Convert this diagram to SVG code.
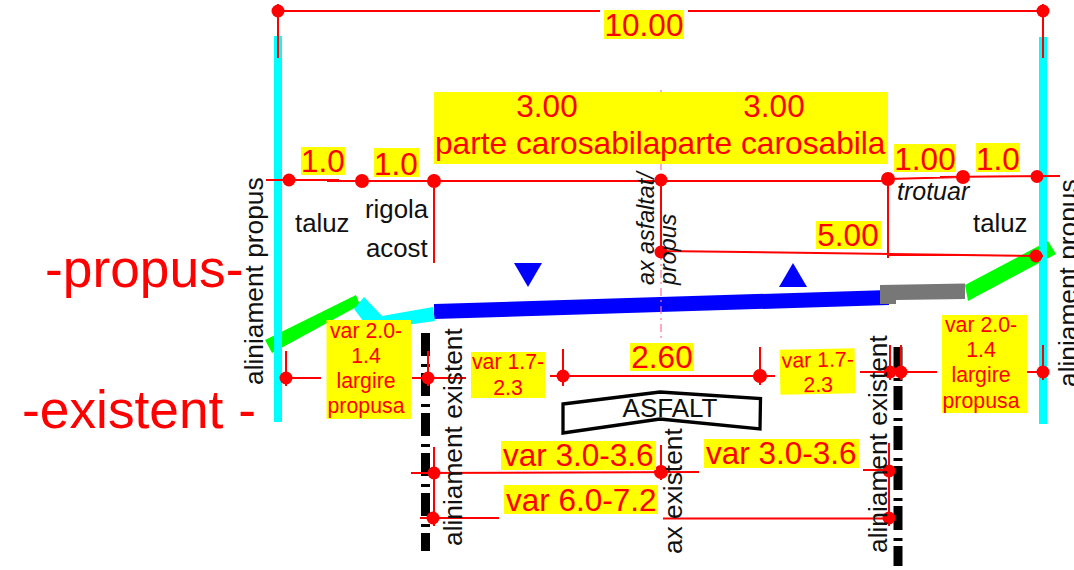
<svg xmlns="http://www.w3.org/2000/svg" width="1074" height="570" viewBox="0 0 1074 570">
<style>
text{font-family:"Liberation Sans",Arial,sans-serif}
.dim{fill:#f00;font-size:31.500px}
.m{text-anchor:middle}
.sm{fill:#f00;font-size:21.300px;text-anchor:middle}
.blk{fill:#111;font-size:25.800px}
.v{fill:#111;font-size:26.300px}
.it{fill:#111;font-size:23.300px;font-style:italic}
.big{fill:#f00;font-size:53.300px}
.y{fill:#ff0}
.l{stroke:#f00;stroke-width:2;fill:none}
.d{fill:#f00}
.bk{stroke:#000;stroke-width:9;fill:none}
</style>
<rect width="1074" height="570" fill="#fff"/>
<g id="road">
<polygon points="434,304 889,290 889,305 434,319" fill="#00f"/>
<polygon points="880,285 965,283.500 965,299 896,300 896,304 880,304" fill="#777"/>
<polygon points="965,285 1048,241 1056,254 968,301" fill="#0f0"/>
<polygon points="265,340 356,295 360,305 272,353" fill="#0f0"/>
<polygon points="354,309 364,297 382,316 433,307 435,321 370,330" fill="#0ff"/>
<polygon points="514,263 542,263 528,287" fill="#00f"/>
<polygon points="793,263 779,287 807,287" fill="#00f"/>
</g>
<g id="alignments">
<rect x="274" y="36" width="8" height="386" fill="#0ff"/>
<rect x="1039" y="37" width="8" height="387" fill="#0ff"/>
<line class="bk" x1="425.500" y1="331" x2="425.500" y2="551" stroke-dasharray="23 8 3 6" stroke-dashoffset="-2"/>
<line class="bk" x1="898" y1="347" x2="898" y2="566" stroke-dasharray="24 8 3 5" stroke-dashoffset="1"/>
<line x1="661" y1="90" x2="661" y2="340" stroke="#ff6f9f" stroke-width="1.200" stroke-dasharray="8 4 2 4"/>
</g>
<g id="connectors">
<path class="l" d="M278 4V58M1043 4V58M278 11H600M688 11H1043"/>
<path class="l" d="M266 180H339M327 181H385M385 181H459M434 181H888M888 179L963 177M940 177L1060 176"/>
<path class="l" d="M434 174V263M661 175V252M888 180V258M661 251L1043 256"/>
<path class="l" d="M286 351V386M292 378H321M412 378H466M428 351V386"/>
<path class="l" d="M563 349V386M550 376H775M760 347V385"/>
<path class="l" d="M860 372H937M890 345V380M901 345V380M1027 372H1043M1043 345V380"/>
<path class="l" d="M411 473L699 472M434 447V526M661 445V480M420 518H499M663 518.500H889"/>
<path class="l" d="M863 470H889M889 443V526"/>
<g class="d">
<circle cx="278" cy="11" r="6.500"/><circle cx="1043" cy="11" r="6.500"/>
<circle cx="289" cy="180" r="6.500"/><circle cx="362" cy="181" r="7"/><circle cx="434" cy="181" r="7"/>
<circle cx="661" cy="180" r="6.500"/><circle cx="888" cy="179" r="7"/><circle cx="963" cy="177" r="7"/><circle cx="1037" cy="176.500" r="6.500"/>
<circle cx="661" cy="252" r="6.500"/><circle cx="1036" cy="256" r="6.500"/>
<circle cx="286" cy="378" r="6.500"/><circle cx="428" cy="378" r="6.500"/><circle cx="563" cy="376" r="6.500"/><circle cx="760" cy="376" r="7"/>
<circle cx="890" cy="372" r="6.500"/><circle cx="901" cy="372" r="6.500"/><circle cx="1043" cy="372" r="6.500"/>
<circle cx="434" cy="473" r="6.500"/><circle cx="661" cy="472" r="7"/><circle cx="889" cy="471" r="6.500"/>
<circle cx="433" cy="518" r="6.500"/><circle cx="889" cy="518" r="6.500"/>
</g>
</g>
<g id="top-total"><rect class="y" x="604" y="10" width="80" height="29"/><text class="dim m" x="644" y="36">10.00</text></g>
<g id="carriageway"><rect class="y" x="434" y="92" width="454" height="72"/>
<text class="dim m" x="547" y="117">3.00</text><text class="dim m" x="774" y="117">3.00</text>
<text class="dim" x="435" y="154" style="font-size:31.700px">parte carosabila</text><text class="dim" x="660" y="154" style="font-size:31.700px">parte carosabila</text></g>
<g id="w1"><rect class="y" x="301" y="147" width="44" height="28"/><text class="dim m" x="323" y="172">1.0</text></g>
<g id="w2"><rect class="y" x="374" y="148" width="45" height="29"/><text class="dim m" x="396" y="175">1.0</text></g>
<g id="w3"><rect class="y" x="894" y="144" width="62" height="28"/><text class="dim m" x="925" y="170">1.00</text></g>
<g id="w4"><rect class="y" x="976" y="143" width="44" height="29"/><text class="dim m" x="998" y="170">1.0</text></g>
<g id="w5"><rect class="y" x="816" y="221" width="65" height="28"/><text class="dim m" x="848" y="246">5.00</text></g>
<g id="w6"><rect class="y" x="630" y="343" width="64" height="28"/><text class="dim m" x="662" y="368">2.60</text></g>
<g id="labels">
<text class="blk" x="295" y="232">taluz</text><text class="blk" x="365" y="218">rigola</text><text class="blk" x="366" y="257">acost</text><text class="blk" x="973" y="232">taluz</text>
<text class="it" x="897" y="200" style="font-size:25px">trotuar</text>
<text class="it" transform="translate(654 285) rotate(-90)">ax asfaltat/</text>
<text class="it" transform="translate(676 285) rotate(-90)">propus</text>
<text class="v" transform="translate(263 385) rotate(-90)">aliniament propus</text>
<text class="v" transform="translate(1077 387) rotate(-90)">aliniament propus</text>
<text class="v" transform="translate(462 546) rotate(-90)">aliniament existent</text>
<text class="v" transform="translate(887 553) rotate(-90)">aliniament existent</text>
<text class="big" x="45" y="287">-propus-</text>
<text class="big" x="22" y="428">-existent -</text>
</g>
<g id="asfalt"><polygon points="563,404 660,392 760.500,398.500 760,429 660,419 563,433" fill="#fff" stroke="#000" stroke-width="3.300"/><text x="670" y="417" class="m" style="font-size:26px" fill="#111">ASFALT</text></g>
<g id="ax-existent"><text class="v" transform="translate(682 554) rotate(-90)">ax existent</text></g>
<g id="var-l"><rect class="y" x="326.500" y="320" width="84.500" height="99"/><text class="sm" x="366" y="338">var 2.0-</text><text class="sm" x="366" y="363">1.4</text><text class="sm" x="366" y="388">largire</text><text class="sm" x="366" y="413">propusa</text></g>
<g id="var-r"><rect class="y" x="942" y="315" width="85" height="98"/><text class="sm" x="981" y="332">var 2.0-</text><text class="sm" x="981" y="357">1.4</text><text class="sm" x="981" y="382">largire</text><text class="sm" x="981" y="408">propusa</text></g>
<g id="var-m1"><rect class="y" x="471" y="352" width="74" height="46"/><text class="sm" x="508" y="369">var 1.7-</text><text class="sm" x="508" y="395">2.3</text></g>
<g id="var-m2" transform="rotate(-1 818 371)"><rect class="y" x="780" y="349" width="75" height="45"/><text class="sm" x="818" y="367">var 1.7-</text><text class="sm" x="818" y="392">2.3</text></g>
<g id="var-a"><rect class="y" x="501" y="441" width="155" height="29"/><text class="dim" x="503" y="466">var 3.0-3.6</text></g>
<g id="var-b"><rect class="y" x="704" y="439" width="155" height="29"/><text class="dim" x="706" y="464">var 3.0-3.6</text></g>
<g id="var-c"><rect class="y" x="504" y="485" width="154" height="29"/><text class="dim" x="506" y="511">var 6.0-7.2</text></g>
</svg>
